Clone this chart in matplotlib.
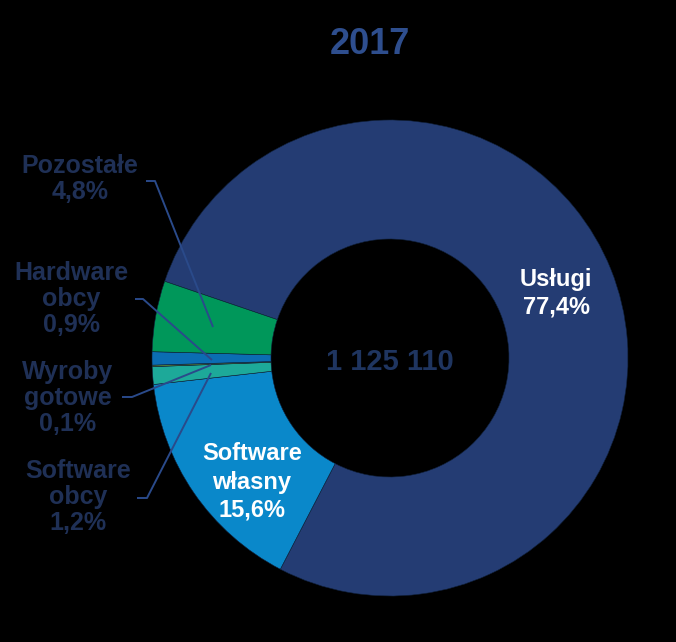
import matplotlib.pyplot as plt

# data
categories = ["Usługi", "Software własny", "Software obcy", "Wyroby gotowe",
              "Hardware obcy", "Pozostałe"]
shares = [77.4, 15.6, 1.2, 0.1, 0.9, 4.8]
total_label = "1 125 110"
year = "2017"

colors = ["#243C73", "#0A88CA", "#1DA999", "#5B8A3A", "#0B6DB3", "#00975A"]
NAVY_TXT = "#1F3056"
LINE_C = "#2A4A8A"

W, H = 676, 642
CX, CY, R = 390, 358, 238


def fy(y):
    # pixel row (from top) -> data y
    return H - y


def pct(v):
    return f"{v:.1f}%".replace(".", ",")


fig = plt.figure(figsize=(W / 100, H / 100), dpi=100, facecolor="black")
ax = fig.add_axes([0, 0, 1, 1])
ax.set_facecolor("black")

ax.pie(shares, colors=colors, startangle=161.2, counterclock=False,
       center=(CX, fy(CY)), radius=R,
       wedgeprops=dict(width=R * 0.5, linewidth=0.4, edgecolor="#10203a"))

ax.set_xlim(0, W)
ax.set_ylim(0, H)
ax.set_aspect("equal")
ax.axis("off")

ax.text(370, fy(45), year, color="#2E4E8E", fontsize=26, fontweight="bold",
        ha="center", va="center", family="Liberation Sans")
ax.text(CX, fy(362), total_label, color="#1F3560", fontsize=21,
        fontweight="bold", ha="center", va="center", family="Liberation Sans")

# labels inside
ax.text(556, fy(293), f"{categories[0]}\n{pct(shares[0])}", color="white",
        fontsize=17, fontweight="bold", ha="center", va="center",
        linespacing=1.25, family="Liberation Sans")
ax.text(252, fy(482), f"Software\nwłasny\n{pct(shares[1])}", color="white",
        fontsize=17, fontweight="bold", ha="center", va="center",
        linespacing=1.3, family="Liberation Sans")

# outside labels with leader lines
outside = [
    # idx, text, text center, leader points
    (5, "Pozostałe", (80, 179), [(146, 181), (155, 181), (213, 327)]),
    (4, "Hardware\nobcy", (71, 299), [(135, 299), (143, 299), (212, 360)]),
    (3, "Wyroby\ngotowe", (68, 398), [(122, 397), (132, 397), (211, 365)]),
    (2, "Software\nobcy", (78, 497), [(137, 498), (147, 498), (211, 373)]),
]
for idx, name, (tx, ty), pts in outside:
    ax.text(tx, fy(ty), f"{name}\n{pct(shares[idx])}", color=NAVY_TXT,
            fontsize=18, fontweight="bold", ha="center", va="center",
            linespacing=1.1, family="Liberation Sans")
    ax.plot([p[0] for p in pts], [fy(p[1]) for p in pts], color=LINE_C,
            lw=1.4, solid_capstyle="butt")

fig.savefig("out.png", dpi=100, facecolor="black")
